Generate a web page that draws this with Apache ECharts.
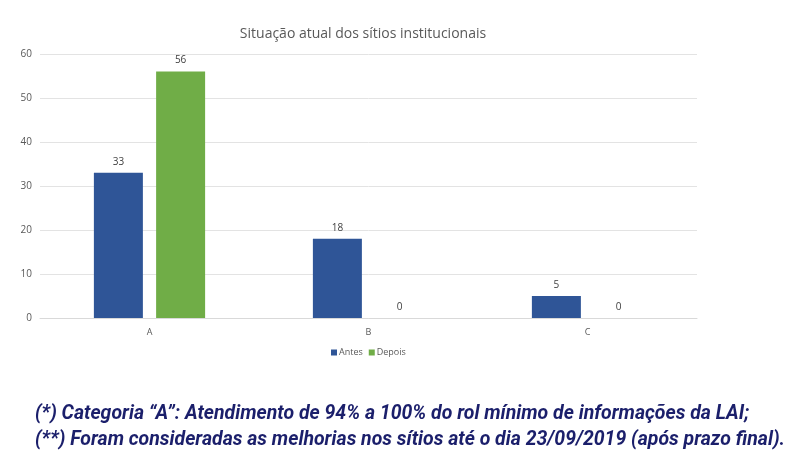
<!DOCTYPE html>
<html>
<head>
<meta charset="utf-8">
<script src="https://cdn.jsdelivr.net/npm/echarts@6/dist/echarts.min.js"></script>
<style>
  html, body { margin: 0; padding: 0; background: #fff; }
  #container { width: 800px; height: 463px; }
</style>
</head>
<body>
<div id="container"></div>
<script>
var categories = ['A', 'B', 'C'];
var antes = [33, 18, 5];
var depois = [56, 0, 0];
var yTicks = [0, 10, 20, 30, 40, 50, 60];

var notes = [
	'(*) Categoria \u201cA\u201d: Atendimento de 94% a 100% do rol mínimo de informações da LAI;',
	'(**) Foram consideradas as melhorias nos sítios até o dia 23/09/2019 (após prazo final).'
];

var myChart = echarts.init(document.getElementById('container'));

var noteFont = 'italic bold 21px Roboto, sans-serif';
// squeeze the footnotes so the longer line spans about 750px, like the condensed font of the original
var ctx = document.createElement('canvas').getContext('2d');
ctx.font = noteFont;
var noteScale = 750 / ctx.measureText(notes[1]).width;

var labelStyle = {
	show: true,
	position: 'top',
	distance: 6,
	color: '#404040',
	fontSize: 10,
	fontFamily: 'Open Sans'
};

myChart.setOption({
	backgroundColor: '#ffffff',
	animation: false,
	title: {
		text: 'Situação atual dos sítios institucionais',
		left: 358,
		textAlign: 'center',
		top: 22,
		textStyle: {
			color: '#595959',
			fontSize: 14,
			fontWeight: 'normal',
			fontFamily: 'Open Sans'
		}
	},
	legend: {
		data: ['Antes', 'Depois'],
		left: 326,
		top: 343,
		itemWidth: 6,
		itemHeight: 6,
		itemGap: 6,
		icon: 'rect',
		textStyle: {
			color: '#595959',
			fontSize: 9,
			fontFamily: 'Open Sans',
			padding: [0, 0, 0, -3]
		}
	},
	grid: {
		left: 40,
		right: 103,
		top: 54,
		bottom: 145
	},
	xAxis: {
		type: 'category',
		data: categories,
		axisLine: { lineStyle: { color: '#d9d9d9' } },
		axisTick: { show: false },
		axisLabel: {
			color: '#595959',
			fontSize: 9,
			margin: 10,
			fontFamily: 'Open Sans'
		}
	},
	yAxis: {
		type: 'value',
		min: yTicks[0],
		max: yTicks[yTicks.length - 1],
		interval: 10,
		axisLine: { show: false },
		axisTick: { show: false },
		splitLine: { lineStyle: { color: '#e3e3e3' } },
		axisLabel: {
			color: '#595959',
			fontSize: 10,
			margin: 8,
			fontFamily: 'Open Sans'
		}
	},
	series: [{
		name: 'Antes',
		type: 'bar',
		data: antes,
		barWidth: 49,
		barGap: '27%',
		itemStyle: { color: '#2F5597' },
		label: labelStyle
	}, {
		name: 'Depois',
		type: 'bar',
		data: depois,
		barWidth: 49,
		itemStyle: { color: '#70AD47' },
		label: labelStyle
	}],
	graphic: notes.map(function(t, i) {
		return {
			type: 'text',
			x: 35,
			y: 403 + i * 26,
			scaleX: noteScale,
			style: {
				text: t,
				fill: '#1B1F6B',
				font: noteFont
			}
		};
	})
});

window.addEventListener('resize', function() {
	myChart.resize();
});
</script>
</body>
</html>
